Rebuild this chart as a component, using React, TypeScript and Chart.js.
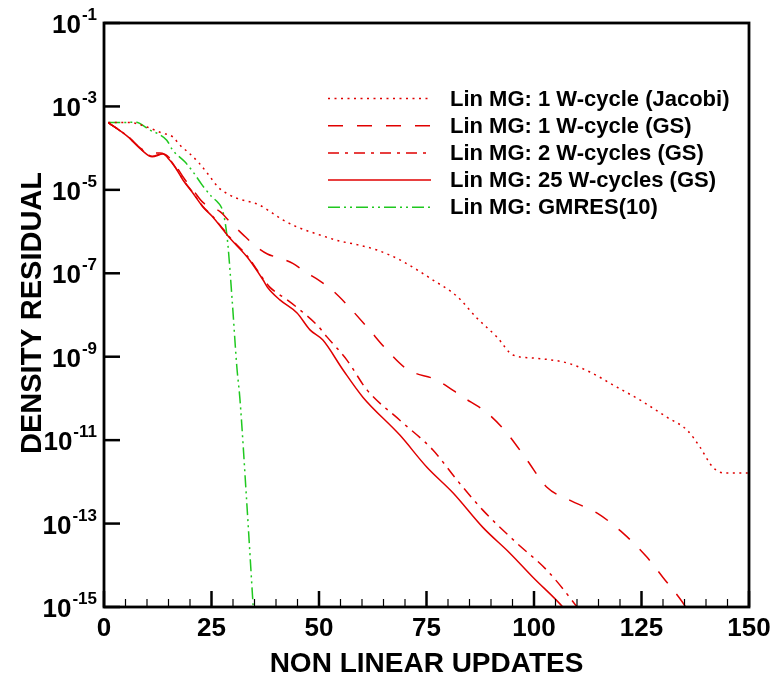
import React, { useEffect, useRef } from "react";
import { Chart, registerables } from "chart.js";

Chart.register(...registerables);

const FONT = '"Liberation Sans", Arial, Helvetica, sans-serif';
const RED = "#e00000";
const GREEN = "#1fc81f";

// ---- axes ----
const xMin = 0;
const xMax = 150;
const xMajorTicks = [0, 25, 50, 75, 100, 125, 150];
const xMinorStep = 5;
const yMin = 1e-15;
const yMax = 1e-1;
const yTickExponents = [-1, -3, -5, -7, -9, -11, -13, -15];
const xTitle = "NON LINEAR UPDATES";
const yTitle = "DENSITY RESIDUAL";

// ---- series: Lin MG: 1 W-cycle (Jacobi) ----
const jacobiX = [1, 6, 10, 13.5, 16, 17.7, 19.8, 22.1, 24.6, 26.5, 28.5, 30.9, 36, 39.1, 41.6, 44.9, 50.2, 54.9, 59.1, 63.5, 68.8, 76.5, 82.1, 86.7, 91.4, 95.1, 99.8, 107.7, 113, 119.3, 124.7, 131, 135.6, 138.6, 141.6, 144.4, 150];
const jacobiY = [4.1e-4, 4.1e-4, 3.2e-4, 2.3e-4, 1.86e-4, 1.17e-4, 7.6e-5, 4.4e-5, 2.1e-5, 1.17e-5, 8.3e-6, 6.3e-6, 4.4e-6, 2.8e-6, 1.9e-6, 1.29e-6, 8.3e-7, 5.9e-7, 4.8e-7, 3.6e-7, 2.1e-7, 6.9e-8, 2.8e-8, 8.5e-9, 2.95e-9, 1.1e-9, 9.3e-10, 7.1e-10, 4.3e-10, 1.86e-10, 9.1e-11, 3.5e-11, 1.74e-11, 6.8e-12, 2.24e-12, 1.62e-12, 1.62e-12];

// ---- series: Lin MG: 1 W-cycle (GS) ----
const gs1X = [1, 5.6, 8.8, 10.7, 13, 15.3, 17, 18.6, 20.7, 23, 27, 29.3, 32.2, 35, 38, 41, 44, 47, 50, 53, 56, 61.2, 65.8, 70.5, 77.4, 83.5, 89.1, 93.7, 98.4, 103, 108.4, 114.7, 120.7, 126.3, 130, 134.7, 137];
const gs1Y = [4.1e-4, 1.86e-4, 9.5e-5, 7.6e-5, 7.6e-5, 5.8e-5, 3.4e-5, 1.9e-5, 1.0e-5, 5.0e-6, 3.0e-6, 1.7e-6, 8.7e-7, 4.7e-7, 2.9e-7, 2.3e-7, 1.7e-7, 1.05e-7, 6.8e-8, 4.0e-8, 2.0e-8, 5.1e-9, 1.44e-9, 5.0e-10, 2.75e-10, 1.07e-10, 4.5e-11, 1.48e-11, 3.3e-12, 7.4e-13, 3.6e-13, 1.78e-13, 5.9e-14, 1.55e-14, 5.1e-15, 1.23e-15, 5e-16];

// ---- series: Lin MG: 2 W-cycles (GS) ----
const gs2X = [1, 5.6, 8.8, 11.2, 13.7, 15.3, 17, 18.4, 20.7, 23, 25.3, 27.7, 29.3, 33.3, 37, 38.6, 40.2, 42.6, 45.6, 49.5, 51.9, 56.5, 61.2, 68.8, 76.5, 82.1, 88.1, 96, 103, 110, 112];
const gs2Y = [4.1e-4, 1.9e-4, 9.1e-5, 6.4e-5, 7.4e-5, 5.3e-5, 3.0e-5, 1.75e-5, 8.5e-6, 4.0e-6, 2.3e-6, 1.15e-6, 7.2e-7, 2.6e-7, 7.4e-8, 4.6e-8, 3.4e-8, 2.3e-8, 1.32e-8, 5.8e-9, 2.95e-9, 8.3e-10, 1.58e-10, 3.0e-11, 5.8e-12, 1.1e-12, 2.1e-13, 3.4e-14, 7.6e-15, 1.0e-15, 5e-16];

// ---- series: Lin MG: 25 W-cycles (GS) ----
const gs25X = [1, 5.6, 8.8, 11.2, 13.7, 15.3, 17, 18.4, 20.7, 23, 25.3, 27.7, 29.3, 33.3, 37, 38.1, 40.9, 44.9, 47.9, 50.9, 55.6, 60.2, 68.8, 75.1, 81.2, 88.1, 94.4, 99.8, 106.7, 109];
const gs25Y = [4.1e-4, 1.86e-4, 8.9e-5, 6.2e-5, 7.2e-5, 5.1e-5, 2.95e-5, 1.7e-5, 8.3e-6, 3.9e-6, 2.24e-6, 1.1e-6, 6.9e-7, 2.45e-7, 6.9e-8, 4.5e-8, 2.3e-8, 1.12e-8, 4.4e-9, 2.5e-9, 4.8e-10, 1.07e-10, 1.32e-11, 2.24e-12, 5.4e-13, 8.1e-14, 1.95e-14, 5.1e-15, 1.0e-15, 5e-16];

// ---- series: Lin MG: GMRES(10) ----
const gmresX = [1, 4, 7.5, 8.5, 10.7, 13, 14.6, 16, 18.8, 20.7, 22.8, 25.1, 26.5, 27.4, 28.2, 28.8, 29.8, 30.9, 31.6, 33.2, 34.7, 35.2];
const gmresY = [4.1e-4, 4.1e-4, 4.2e-4, 3.8e-4, 2.7e-4, 2.1e-4, 1.55e-4, 8.9e-5, 4.7e-5, 2.7e-5, 1.32e-5, 6.8e-6, 5.0e-6, 3.6e-6, 1.6e-6, 5e-7, 2.3e-8, 5.6e-10, 1.0e-10, 3.2e-13, 1.0e-15, 1.6e-16];

const seriesLabels = [
  "Lin MG: 1 W-cycle (Jacobi)",
  "Lin MG: 1 W-cycle (GS)",
  "Lin MG: 2 W-cycles (GS)",
  "Lin MG: 25 W-cycles (GS)",
  "Lin MG: GMRES(10)",
];

function toPoints(xs: number[], ys: number[]) {
  return xs.map((x, i) => ({ x, y: ys[i] }));
}

const decorPlugin = {
  id: "decor",
  afterDatasetsDraw(chart: any) {
    const ctx: CanvasRenderingContext2D = chart.ctx;
    const { left, right, top, bottom } = chart.chartArea;
    const xs = chart.scales.x;
    const ys = chart.scales.y;
    ctx.save();
    ctx.fillStyle = "#000";
    ctx.strokeStyle = "#000";
    ctx.setLineDash([]);

    // x minor ticks
    ctx.lineWidth = 1.2;
    for (let v = xMin; v <= xMax; v += xMinorStep) {
      if (v % 25 === 0) continue;
      const px = xs.getPixelForValue(v);
      ctx.beginPath();
      ctx.moveTo(px, bottom);
      ctx.lineTo(px, bottom - 8);
      ctx.stroke();
    }
    // x major ticks
    ctx.lineWidth = 2.5;
    for (const v of xMajorTicks) {
      const px = xs.getPixelForValue(v);
      ctx.beginPath();
      ctx.moveTo(px, bottom);
      ctx.lineTo(px, bottom - 16);
      ctx.stroke();
    }
    // y major ticks
    for (const e of yTickExponents) {
      const py = ys.getPixelForValue(Math.pow(10, e));
      ctx.beginPath();
      ctx.moveTo(left, py);
      ctx.lineTo(left + 16, py);
      ctx.stroke();
    }
    // frame
    ctx.lineWidth = 2.8;
    ctx.strokeRect(left, top, right - left, bottom - top);

    // x tick labels
    ctx.font = `bold 26px ${FONT}`;
    ctx.textAlign = "center";
    ctx.textBaseline = "alphabetic";
    for (const v of xMajorTicks) {
      const px = xs.getPixelForValue(v);
      ctx.fillText(String(v), px, bottom + 29);
    }

    // y tick labels 10^e
    const labelRight = left - 7;
    for (const e of yTickExponents) {
      const py = ys.getPixelForValue(Math.pow(10, e));
      const sup = String(e);
      ctx.font = `bold 17px ${FONT}`;
      const supW = ctx.measureText(sup).width;
      ctx.textAlign = "left";
      ctx.fillText(sup, labelRight - supW, py - 3);
      ctx.font = `bold 26px ${FONT}`;
      ctx.textAlign = "right";
      ctx.fillText("10", labelRight - supW - 1, py + 10);
    }

    // axis titles
    ctx.font = `bold 28px ${FONT}`;
    ctx.textAlign = "center";
    ctx.fillText(xTitle, (left + right) / 2, bottom + 65);
    ctx.save();
    ctx.translate(41, (top + bottom) / 2 - 2);
    ctx.rotate(-Math.PI / 2);
    ctx.font = `bold 29px ${FONT}`;
    ctx.fillText(yTitle, 0, 0);
    ctx.restore();

    // legend
    const rowY0 = 98.5;
    const rowStep = 27.2;
    chart.data.datasets.forEach((ds: any, i: number) => {
      const ry = rowY0 + i * rowStep;
      ctx.save();
      ctx.strokeStyle = ds.borderColor;
      ctx.lineWidth = ds.borderWidth;
      ctx.setLineDash(ds.borderDash || []);
      ctx.beginPath();
      ctx.moveTo(328, ry);
      ctx.lineTo(431, ry);
      ctx.stroke();
      ctx.restore();
      ctx.font = `bold 22px ${FONT}`;
      ctx.textAlign = "left";
      ctx.textBaseline = "middle";
      ctx.fillStyle = "#000";
      ctx.fillText(ds.label, 450, ry + 1);
    });
    ctx.restore();
  },
};

export default function App() {
  const canvasRef = useRef<HTMLCanvasElement | null>(null);

  useEffect(() => {
    const canvas = canvasRef.current;
    if (!canvas) return;
    const common = {
      borderWidth: 1.5,
      pointRadius: 0,
      fill: false,
      cubicInterpolationMode: "monotone" as const,
    };
    const chart = new Chart(canvas, {
      type: "line",
      data: {
        datasets: [
          { ...common, label: seriesLabels[0], data: toPoints(jacobiX, jacobiY), borderColor: RED, borderDash: [2, 4.5] },
          { ...common, label: seriesLabels[1], data: toPoints(gs1X, gs1Y), borderColor: RED, borderDash: [15, 14] },
          { ...common, label: seriesLabels[2], data: toPoints(gs2X, gs2Y), borderColor: RED, borderDash: [11, 6, 3, 6] },
          { ...common, label: seriesLabels[3], data: toPoints(gs25X, gs25Y), borderColor: RED, borderDash: [] },
          { ...common, label: seriesLabels[4], data: toPoints(gmresX, gmresY), borderColor: GREEN, borderDash: [12, 4, 2, 4, 2, 4] },
        ],
      },
      options: {
        responsive: false,
        animation: false,
        layout: { padding: { left: 104, right: 26, top: 23, bottom: 68 } },
        plugins: {
          legend: { display: false },
          tooltip: { enabled: false },
        },
        scales: {
          x: { type: "linear", min: xMin, max: xMax, display: false },
          y: { type: "logarithmic", min: yMin, max: yMax, display: false },
        },
      },
      plugins: [decorPlugin],
    });
    return () => chart.destroy();
  }, []);

  return (
    <div style={{ position: "absolute", left: 0, top: 0, width: 775, height: 675, background: "#fff" }}>
      <canvas ref={canvasRef} width={775} height={675} style={{ display: "block" }} />
    </div>
  );
}
